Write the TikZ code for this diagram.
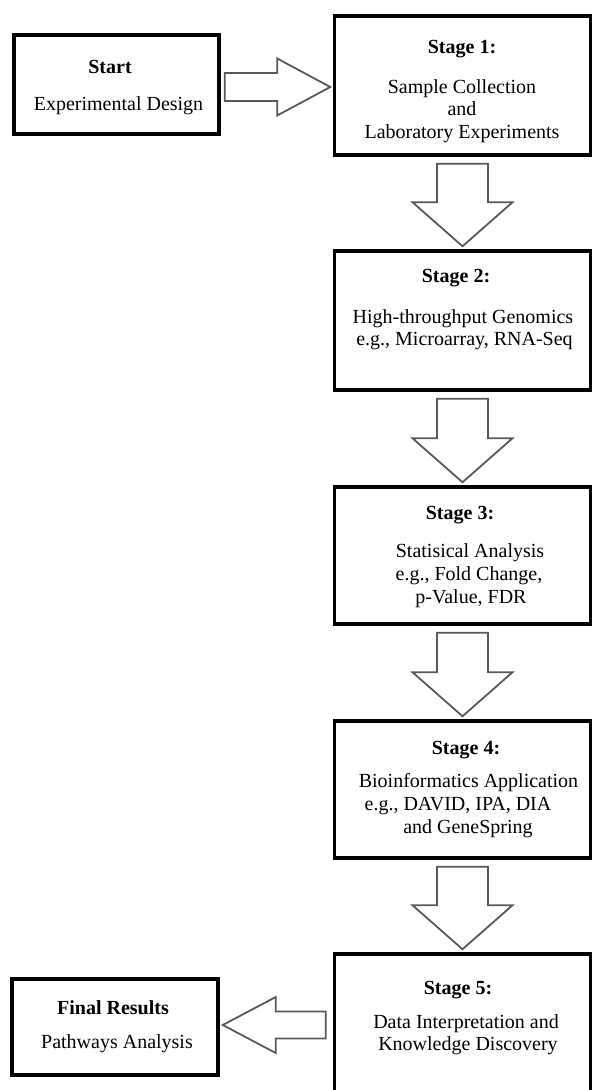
\documentclass[tikz,border=0pt]{standalone}
\usepackage{fontspec}
\setmainfont{Liberation Serif}
\usetikzlibrary{calc}

% hollow down arrow from the bottom of one box to the top of the next
\newcommand{\downblock}[2]{%
  \draw[blk] let \p1=($(#1.south)+(0,7)$), \p2=($(#2.north)+(0,-3)$) in
    (\x2-25.5pt,\y1) -- (\x2+25.5pt,\y1) -- (\x2+25.5pt,\y2+44pt) -- (\x2+50pt,\y2+44pt)
    -- (\x2,\y2) -- (\x2-50pt,\y2+44pt) -- (\x2-25.5pt,\y2+44pt) -- cycle;}

\begin{document}
\begin{tikzpicture}[x=1pt, y=-1pt,
    box/.style={draw=black, line width=3.5pt, fill=white, inner sep=0pt},
    blk/.style={draw=black!65, line width=1.8pt, fill=white, line join=miter},
    txt/.style={anchor=base, inner sep=0pt, font=\fontsize{20}{23}\selectfont},
    hd/.style={txt, font=\fontsize{20}{23}\selectfont\bfseries}]
        \useasboundingbox (0,0) rectangle (592,1090);
        % boxes
        \node[box, minimum width=205pt, minimum height=99pt] (start) at (116.5,84.5) {};
        \node[box, minimum width=256pt, minimum height=139pt] (s1) at (462.5,85.5) {};
        \node[box, minimum width=256pt, minimum height=139pt] (s2) at (462.5,320.5) {};
        \node[box, minimum width=256pt, minimum height=137pt] (s3) at (462.5,555.5) {};
        \node[box, minimum width=256pt, minimum height=137pt] (s4) at (462.5,789.5) {};
        \node[box, minimum width=256pt, minimum height=150pt] (s5) at (462.5,1029) {};
        \node[box, minimum width=206pt, minimum height=96pt] (final) at (115,1027) {};
        % texts
        \node[hd] (hstart) at (110,73) {Start};
        \node[txt] (tstart) at (118.5,110) {Experimental Design};
        \node[hd] (h1) at (462,53) {Stage 1:};
        \node[txt] (t1a) at (462,93) {Sample Collection};
        \node[txt] (t1b) at (462,115.5) {and};
        \node[txt] (t1c) at (462,138) {Laboratory Experiments};
        \node[hd] (h2) at (456,282) {Stage 2:};
        \node[txt] (t2a) at (463,323) {High-throughput Genomics};
        \node[txt] (t2b) at (464.5,345) {e.g., Microarray, RNA-Seq};
        \node[hd] (h3) at (460,519) {Stage 3:};
        \node[txt] (t3a) at (470,557) {Statisical Analysis};
        \node[txt] (t3b) at (469,580) {e.g., Fold Change,};
        \node[txt] (t3c) at (471,603) {p-Value, FDR};
        \node[hd] (h4) at (466,754) {Stage 4:};
        \node[txt] (t4a) at (468.5,787) {Bioinformatics Application};
        \node[txt] (t4b) at (458,810) {e.g., DAVID, IPA, DIA};
        \node[txt] (t4c) at (468,833) {and GeneSpring};
        \node[hd] (h5) at (458,994) {Stage 5:};
        \node[txt] (t5a) at (466,1028) {Data Interpretation and};
        \node[txt] (t5b) at (468,1050) {Knowledge Discovery};
        \node[hd] (hfin) at (113,1014) {Final Results};
        \node[txt] (tfin) at (117,1048) {Pathways Analysis};
        % hollow arrows
        \draw[blk] let \p1=($(start.east)+(4,2.5)$), \p2=($(s1.west)+(-2.5,0)$) in
            (\x1,\y1+14pt) -- (\x2-53pt,\y1+14pt) -- (\x2-53pt,\y1+28.5pt) -- (\x2,\y1)
            -- (\x2-53pt,\y1-28.5pt) -- (\x2-53pt,\y1-14pt) -- (\x1,\y1-14pt) -- cycle;
        \downblock{s1}{s2}
        \downblock{s2}{s3}
        \downblock{s3}{s4}
        \downblock{s4}{s5}
        \draw[blk] let \p1=($(s5.west)+(-7,0)$), \p2=($(final.east)+(3,-2)$) in
            (\x1,\y2+13.5pt) -- (\x2+53pt,\y2+13.5pt) -- (\x2+53pt,\y2+28pt) -- (\x2,\y2)
            -- (\x2+53pt,\y2-28pt) -- (\x2+53pt,\y2-13.5pt) -- (\x1,\y2-13.5pt) -- cycle;
    \end{tikzpicture}
\end{document}
